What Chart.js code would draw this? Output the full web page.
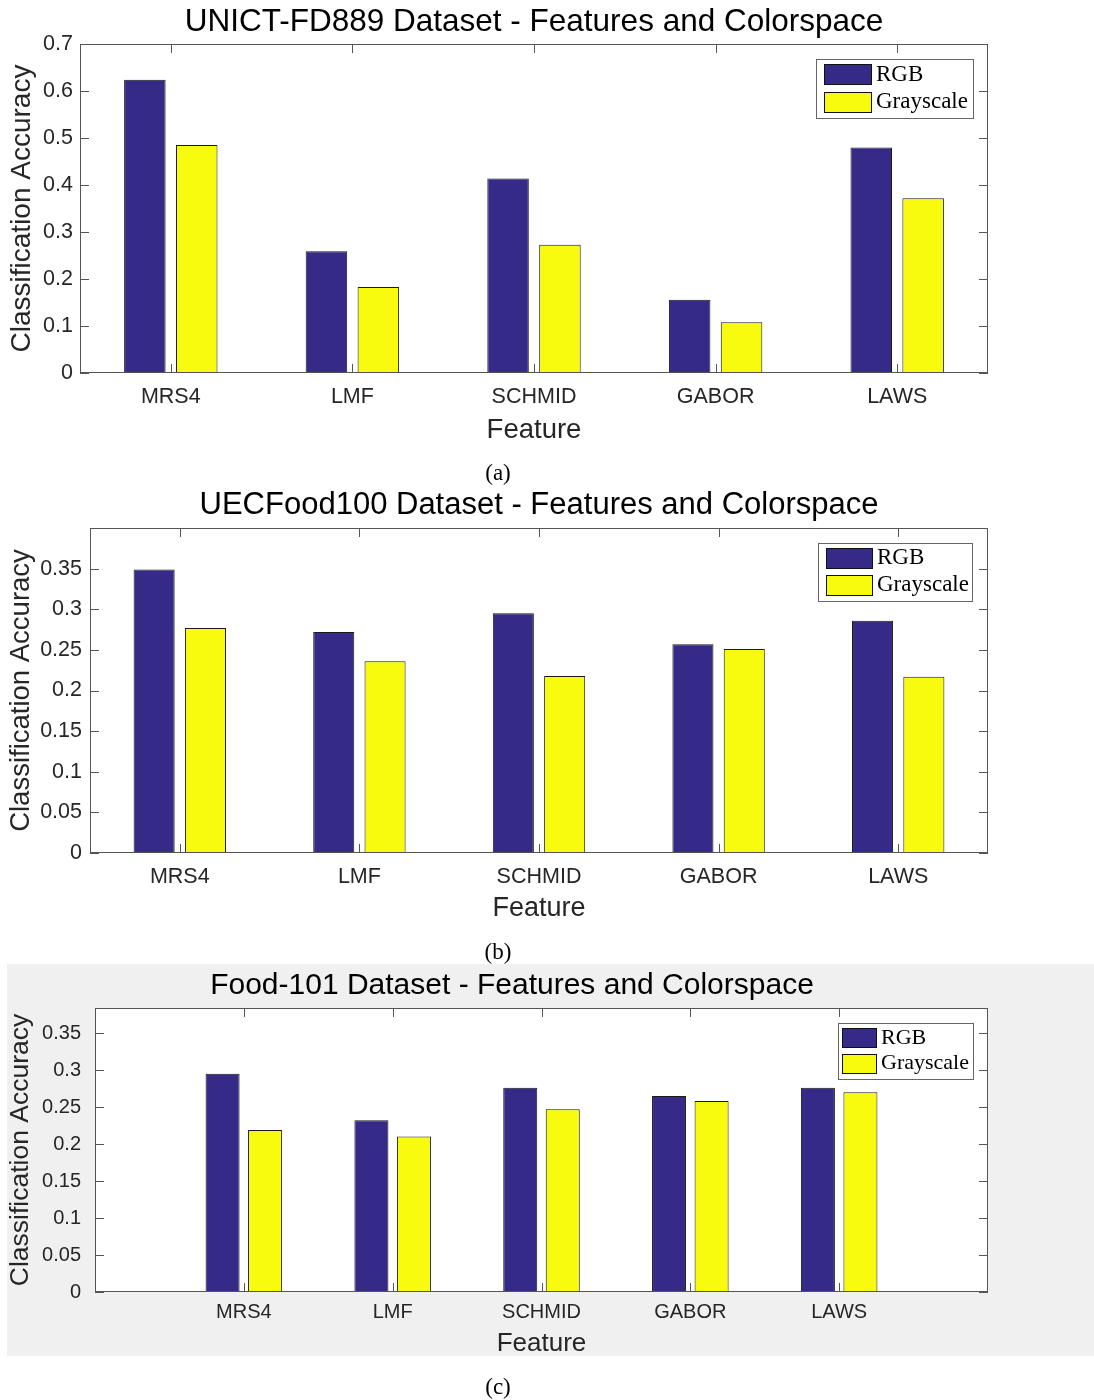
<!DOCTYPE html>
<html>
<head>
<meta charset="utf-8">
<script src="https://cdn.jsdelivr.net/npm/chart.js@4.4.0/dist/chart.umd.min.js"></script>
<style>
  body { margin: 0; background: #fff; }
  #page { position: relative; width: 1094px; height: 1400px; overflow: hidden; }
  .fig { position: absolute; left: 0; width: 1094px; }
  .cap { position: absolute; width: 100px; text-align: center; font-family: "Liberation Serif", serif; font-size: 23px; line-height: 24px; color: #000; }
  #grayBg { position: absolute; left: 7px; top: 964px; width: 1087px; height: 392px; background: #f0f0f0; }
</style>
</head>
<body>
<div id="page">
  <div id="grayBg"></div>
  <div class="fig" style="top:0; height:460px"><canvas id="chartA"></canvas></div>
  <div class="fig" style="top:480px; height:460px"><canvas id="chartB"></canvas></div>
  <div class="fig" style="top:964px; height:420px"><canvas id="chartC"></canvas></div>
  <div class="cap" style="left:448px; top:461px">(a)</div>
  <div class="cap" style="left:448px; top:940px">(b)</div>
  <div class="cap" style="left:448px; top:1375px">(c)</div>
</div>
<script>
// Datos
const features = ['MRS4', 'LMF', 'SCHMID', 'GABOR', 'LAWS'];
const seriesNames = ['RGB', 'Grayscale'];

const unictRgb  = [0.624, 0.259, 0.414, 0.156, 0.480];
const unictGray = [0.485, 0.183, 0.273, 0.108, 0.372];
const unictTicks = [0, 0.1, 0.2, 0.3, 0.4, 0.5, 0.6, 0.7];

const uecRgb  = [0.349, 0.272, 0.295, 0.257, 0.286];
const uecGray = [0.277, 0.236, 0.218, 0.251, 0.217];
const uecTicks = [0, 0.05, 0.1, 0.15, 0.2, 0.25, 0.3, 0.35];

const foodRgb  = [0.295, 0.232, 0.276, 0.265, 0.276];
const foodGray = [0.219, 0.210, 0.247, 0.258, 0.270];
const foodTicks = [0, 0.05, 0.1, 0.15, 0.2, 0.25, 0.3, 0.35];

const SANS = '"Liberation Sans", Arial, sans-serif';
const SERIF = '"Liberation Serif", serif';
const TXT = '#262626';

// Caja estilo MATLAB con marcas hacia adentro y titulo
const matlabBox = {
  id: 'matlabBox',
  beforeDraw(chart, args, o) {
    const { ctx, chartArea: a } = chart;
    if (o.fill) {
      ctx.save();
      ctx.fillStyle = o.fill;
      ctx.fillRect(a.left, a.top, a.width, a.height);
      ctx.restore();
    }
  },
  afterDatasetsDraw(chart, args, o) {
    const { ctx, chartArea: a, scales: { x, y } } = chart;
    const len = 9;
    ctx.save();
    ctx.strokeStyle = '#555';
    ctx.lineWidth = 1;
    ctx.beginPath();
    y.ticks.forEach(t => {
      const py = Math.round(y.getPixelForValue(t.value)) + 0.5;
      ctx.moveTo(a.left, py); ctx.lineTo(a.left + len, py);
      ctx.moveTo(a.right, py); ctx.lineTo(a.right - len, py);
    });
    x.ticks.forEach((t, i) => {
      if (!chart.data.labels[i]) return;
      const px = Math.round(x.getPixelForTick(i)) + 0.5;
      ctx.moveTo(px, a.top); ctx.lineTo(px, a.top + len);
      ctx.moveTo(px, a.bottom); ctx.lineTo(px, a.bottom - len);
    });
    ctx.stroke();
    ctx.strokeRect(Math.round(a.left) + 0.5, Math.round(a.top) + 0.5,
                   Math.round(a.width) - 1, Math.round(a.height) - 1);
    // titulo
    ctx.fillStyle = '#000';
    ctx.font = o.titleSize + 'px ' + SANS;
    ctx.textAlign = 'center';
    ctx.textBaseline = 'middle';
    ctx.fillText(o.title, o.titleX ?? (a.left + a.right) / 2, o.titleY);
    ctx.restore();
  }
};

// Leyenda dentro del area, arriba a la derecha
const boxLegend = {
  id: 'boxLegend',
  afterDraw(chart, args, o) {
    const { ctx, chartArea: a } = chart;
    const x0 = Math.round(a.right - o.inset - o.width);
    const y0 = Math.round(a.top + 15);
    ctx.save();
    ctx.fillStyle = '#fff';
    ctx.fillRect(x0, y0, o.width, o.height);
    ctx.strokeStyle = '#666';
    ctx.lineWidth = 1;
    ctx.strokeRect(x0 + 0.5, y0 + 0.5, o.width, o.height);
    chart.data.datasets.forEach((ds, i) => {
      const cy = y0 + o.firstRow + i * o.rowGap;
      const sx = x0 + o.swatchInset;
      const sy = Math.round(cy - o.swatchH / 2);
      ctx.fillStyle = ds.backgroundColor;
      ctx.fillRect(sx, sy, o.swatchW, o.swatchH);
      ctx.strokeStyle = '#111';
      ctx.strokeRect(sx + 0.5, sy + 0.5, o.swatchW - 1, o.swatchH - 1);
      ctx.fillStyle = '#000';
      ctx.font = o.fontSize + 'px ' + SERIF;
      ctx.textAlign = 'left';
      ctx.textBaseline = 'middle';
      ctx.fillText(ds.label, sx + o.swatchW + 4, cy);
    });
    ctx.restore();
  }
};

function makeChart(id, c) {
  const g = c.geom;
  const labels = c.padEnds ? [''].concat(features, ['']) : features;
  const pad = arr => c.padEnds ? [null].concat(arr, [null]) : arr;
  return new Chart(document.getElementById(id), {
    type: 'bar',
    data: {
      labels: labels,
      datasets: [
        { label: seriesNames[0], data: pad(c.rgb), backgroundColor: '#352a87', borderColor: '#1a1a1a', borderWidth: 1 },
        { label: seriesNames[1], data: pad(c.gray), backgroundColor: '#f9fb0e', borderColor: '#1a1a1a', borderWidth: 1 }
      ]
    },
    options: {
      responsive: true,
      maintainAspectRatio: false,
      animation: false,
      events: [],
      datasets: { bar: { categoryPercentage: 2 / 3.5, barPercentage: 0.8 } },
      layout: { padding: { left: 0, right: 1094 - g.R, top: g.T, bottom: 0 } },
      plugins: {
        legend: { display: false },
        tooltip: { enabled: false },
        title: { display: false },
        matlabBox: { fill: c.fill, title: c.title, titleSize: g.titleSize, titleY: g.titleY, titleX: g.titleX },
        boxLegend: g.legend
      },
      scales: {
        x: {
          offset: !c.padEnds,
          grid: { display: false, drawTicks: false, tickLength: 0 },
          border: { display: false },
          ticks: { autoSkip: false, maxRotation: 0, padding: g.xTickPad, color: TXT, font: { family: SANS, size: g.tickSize } },
          title: { display: true, text: 'Feature', color: TXT, font: { family: SANS, size: g.labelSize }, padding: { top: 0, bottom: g.xTitlePad } },
          afterFit: s => { s.height = g.H - g.B; }
        },
        y: {
          min: 0,
          max: c.yMax,
          grid: { display: false, drawTicks: false, tickLength: 0 },
          border: { display: false },
          afterBuildTicks: s => { s.ticks = c.yTicks.map(v => ({ value: v })); },
          ticks: { padding: g.yTickPad, color: TXT, font: { family: SANS, size: g.tickSize }, callback: v => String(+Number(v).toFixed(3)) },
          title: { display: true, text: 'Classification Accuracy', color: TXT, font: { family: SANS, size: g.ylabelSize }, padding: { top: 5, bottom: 0 } },
          afterFit: s => { s.width = g.L; }
        }
      }
    },
    plugins: [matlabBox, boxLegend]
  });
}

makeChart('chartA', {
  title: 'UNICT-FD889 Dataset - Features and Colorspace',
  rgb: unictRgb, gray: unictGray, yTicks: unictTicks, yMax: 0.7,
  geom: { H: 460, L: 80, R: 988, T: 44, B: 373, titleY: 22, titleSize: 31.5, tickSize: 21.5, labelSize: 27.5, ylabelSize: 28,
          xTickPad: 11, xTitlePad: 13, yTickPad: 7,
          legend: { inset: 15, width: 157, height: 59, swatchInset: 8, swatchW: 48, swatchH: 21, firstRow: 15.5, rowGap: 27.5, fontSize: 23 } }
});

makeChart('chartB', {
  title: 'UECFood100 Dataset - Features and Colorspace',
  rgb: uecRgb, gray: uecGray, yTicks: uecTicks, yMax: 0.4,
  geom: { H: 460, L: 90, R: 988, T: 48, B: 373, titleY: 25, titleSize: 31, tickSize: 21.5, labelSize: 27, ylabelSize: 27.5,
          xTickPad: 11, xTitlePad: 15, yTickPad: 8,
          legend: { inset: 16, width: 154, height: 58, swatchInset: 8, swatchW: 47, swatchH: 21, firstRow: 15, rowGap: 27, fontSize: 23 } }
});

makeChart('chartC', {
  title: 'Food-101 Dataset - Features and Colorspace',
  rgb: foodRgb, gray: foodGray, yTicks: foodTicks, yMax: 0.3838, padEnds: true, fill: '#fff',
  geom: { H: 420, L: 95, R: 988, T: 44, B: 328, titleY: 22, titleX: 512, titleSize: 30, tickSize: 20, labelSize: 26, ylabelSize: 26.5,
          xTickPad: 8, xTitlePad: 25, yTickPad: 14,
          legend: { inset: 15, width: 135, height: 56, swatchInset: 4, swatchW: 35, swatchH: 20, firstRow: 15, rowGap: 25.5, fontSize: 22 } }
});
</script>
</body>
</html>
